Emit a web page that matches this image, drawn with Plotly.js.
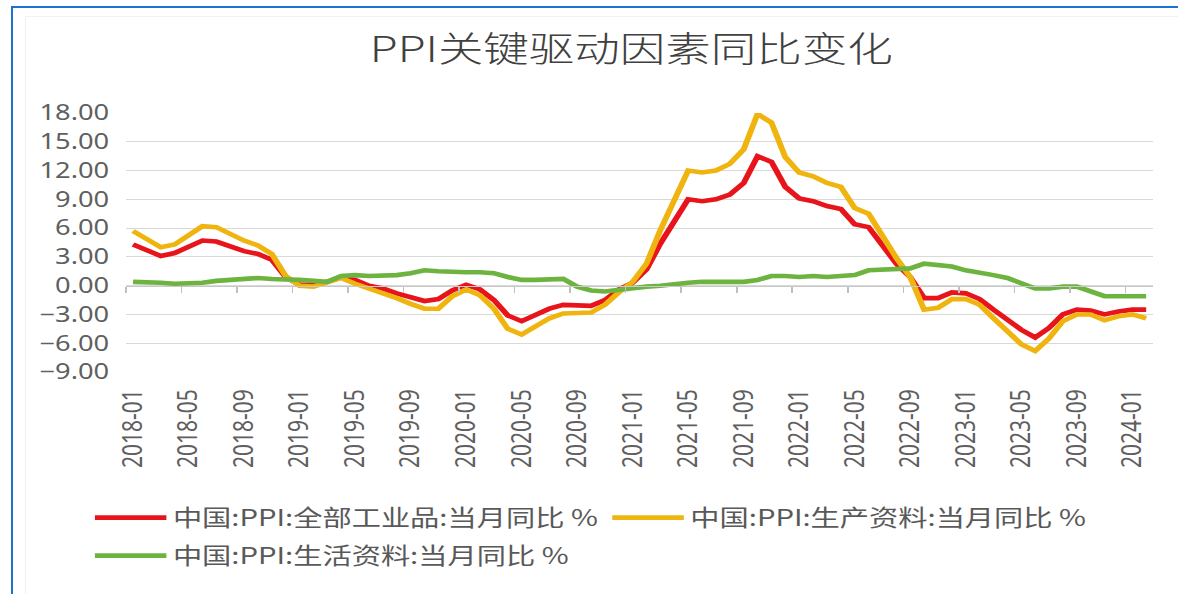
<!DOCTYPE html>
<html><head><meta charset="utf-8">
<script src="https://cdn.plot.ly/plotly-3.0.1.min.js"></script>
<style>
html,body{margin:0;padding:0;background:#fff;overflow:hidden;width:1178px;height:594px;}
#chart{position:absolute;left:0;top:0;width:906px;height:594px;transform:scaleX(1.3);transform-origin:0 0;}
#frame{position:absolute;left:11px;top:6px;width:1200px;height:620px;border-left:2px solid #1b72cf;border-top:2px solid #1b72cf;pointer-events:none;}
#inner{position:absolute;left:25px;top:16px;width:1200px;height:620px;border-left:1px solid #f0f0f0;border-top:1px solid #f3f3f3;pointer-events:none;}
</style></head><body>
<div id="chart"></div><div id="inner"></div><div id="frame"></div>
<script>
const months = [
 "2018-01","2018-02","2018-03","2018-04","2018-05","2018-06","2018-07","2018-08","2018-09","2018-10","2018-11","2018-12",
 "2019-01","2019-02","2019-03","2019-04","2019-05","2019-06","2019-07","2019-08","2019-09","2019-10","2019-11","2019-12",
 "2020-01","2020-02","2020-03","2020-04","2020-05","2020-06","2020-07","2020-08","2020-09","2020-10","2020-11","2020-12",
 "2021-01","2021-02","2021-03","2021-04","2021-05","2021-06","2021-07","2021-08","2021-09","2021-10","2021-11","2021-12",
 "2022-01","2022-02","2022-03","2022-04","2022-05","2022-06","2022-07","2022-08","2022-09","2022-10","2022-11","2022-12",
 "2023-01","2023-02","2023-03","2023-04","2023-05","2023-06","2023-07","2023-08","2023-09","2023-10","2023-11","2023-12",
 "2024-01","2024-02"];

const allIndustrial = [
 4.3,3.7,3.1,3.4,4.1,4.7,4.6,4.1,3.6,3.3,2.7,0.9,
 0.1,0.1,0.4,0.9,0.6,0.0,-0.3,-0.8,-1.2,-1.6,-1.4,-0.5,
 0.1,-0.4,-1.5,-3.1,-3.7,-3.0,-2.4,-2.0,-2.1,-2.1,-1.5,-0.4,
 0.3,1.7,4.4,6.8,9.0,8.8,9.0,9.5,10.7,13.5,12.9,10.3,
 9.1,8.8,8.3,8.0,6.4,6.1,4.2,2.3,0.9,-1.3,-1.3,-0.7,
 -0.8,-1.4,-2.5,-3.6,-4.6,-5.4,-4.4,-3.0,-2.5,-2.6,-3.0,-2.7,
 -2.5,-2.5];

const producerGoods = [
 5.7,4.9,4.0,4.3,5.3,6.2,6.1,5.4,4.7,4.2,3.3,1.0,
 0.0,-0.1,0.3,0.8,0.2,-0.3,-0.7,-1.3,-1.9,-2.4,-2.4,-1.1,
 -0.4,-1.0,-2.4,-4.5,-5.1,-4.2,-3.4,-2.9,-2.9,-2.8,-2.0,-0.7,
 0.4,2.3,5.8,8.9,12.0,11.8,12.0,12.7,14.2,17.9,17.0,13.4,
 11.8,11.4,10.7,10.3,8.1,7.5,5.2,2.9,0.9,-2.5,-2.3,-1.4,
 -1.4,-2.0,-3.4,-4.7,-6.1,-6.8,-5.5,-3.7,-3.0,-3.0,-3.6,-3.2,
 -3.0,-3.4];

const consumerGoods = [
 0.4,0.4,0.3,0.2,0.2,0.3,0.5,0.6,0.7,0.8,0.7,0.7,
 0.6,0.5,0.4,1.0,1.1,1.0,1.0,1.1,1.3,1.6,1.5,1.4,
 1.4,1.4,1.3,0.9,0.6,0.6,0.7,0.7,-0.1,-0.5,-0.6,-0.4,
 -0.2,-0.1,0.0,0.2,0.3,0.4,0.4,0.3,0.4,0.6,1.0,1.0,
 0.9,1.0,0.9,1.0,1.1,1.6,1.7,1.7,1.8,2.3,2.1,2.0,
 1.6,1.4,1.1,0.8,0.3,-0.3,-0.3,-0.1,-0.1,-0.6,-1.1,-1.1,
 -1.1,-1.1];

const seriesNames = ["中国:PPI:全部工业品:当月同比 %","中国:PPI:生产资料:当月同比 %","中国:PPI:生活资料:当月同比 %"];
const yTicks = [-9,-6,-3,0,3,6,9,12,15,18];

const LW = 4.6;
const traces = [
 {x: months, y: allIndustrial, name: seriesNames[0], type:'scatter', mode:'lines',
  line:{color:'#e8141b', width:LW}, legend:'legend', hoverinfo:'skip'},
 {x: months, y: producerGoods, name: seriesNames[1], type:'scatter', mode:'lines',
  line:{color:'#f0b40f', width:LW}, legend:'legend2', hoverinfo:'skip'},
 {x: months, y: consumerGoods, name: seriesNames[2], type:'scatter', mode:'lines', xaxis:'x2',
  line:{color:'#6db33f', width:LW}, legend:'legend3', hoverinfo:'skip'}
];

const tickFont = {family:'Noto Sans, Noto Sans CJK SC, sans-serif', size:21, color:'#5f5f5f'};
const legFont = {family:'Noto Sans CJK SC, sans-serif', size:22.5, color:'#595959'};
const xr = [-0.5, months.length - 0.5];

function legendAt(xpx, ypx) {
  return {orientation:'h', x:xpx/906, xanchor:'left', xref:'container',
          y:1-ypx/594, yanchor:'middle', yref:'container',
          font:legFont, itemwidth:55, bgcolor:'rgba(0,0,0,0)'};
}

const layout = {
 width:906, height:594,
 margin:{l:97, r:19, t:113, b:222, pad:0},
 paper_bgcolor:'#ffffff', plot_bgcolor:'#ffffff',
 showlegend:true,
 title:{text:'PPI关键驱动因素同比变化', x:0.536, xanchor:'center', xref:'container',
        y:1-50/594, yanchor:'middle', yref:'container',
        font:{family:'Noto Sans CJK SC, sans-serif', size:35, color:'#404040', weight:300}},
 xaxis:{type:'category', categoryorder:'array', categoryarray: months, range:xr,
        dtick:4, tick0:0, tickangle:-90, showgrid:false, zeroline:false, showline:false,
        ticks:'', ticklabelstandoff:12, tickfont:tickFont, fixedrange:true},
 xaxis2:{type:'category', categoryorder:'array', categoryarray: months, range:xr,
        overlaying:'x', anchor:'free', position:1/3, side:'bottom',
        dtick:4, tick0:0, tickson:'boundaries', ticks:'outside', ticklen:6, tickwidth:1.2,
        tickcolor:'#bfbfbf', showticklabels:false, showgrid:false, zeroline:false,
        showline:true, linecolor:'#c8c8c8', linewidth:1.2, fixedrange:true},
 yaxis:{range:[-9,18], tickvals:yTicks, tickformat:'.2f', showgrid:true, gridcolor:'#d9d9d9', gridwidth:1.2,
        zeroline:false, showline:false, ticks:'', ticklabelstandoff:12, tickfont:tickFont, fixedrange:true},
 legend: legendAt(68, 518),
 legend2: legendAt(466, 518),
 legend3: legendAt(68, 556)
};

Plotly.newPlot('chart', traces, layout, {staticPlot:true, displayModeBar:false});
</script>
</body></html>
